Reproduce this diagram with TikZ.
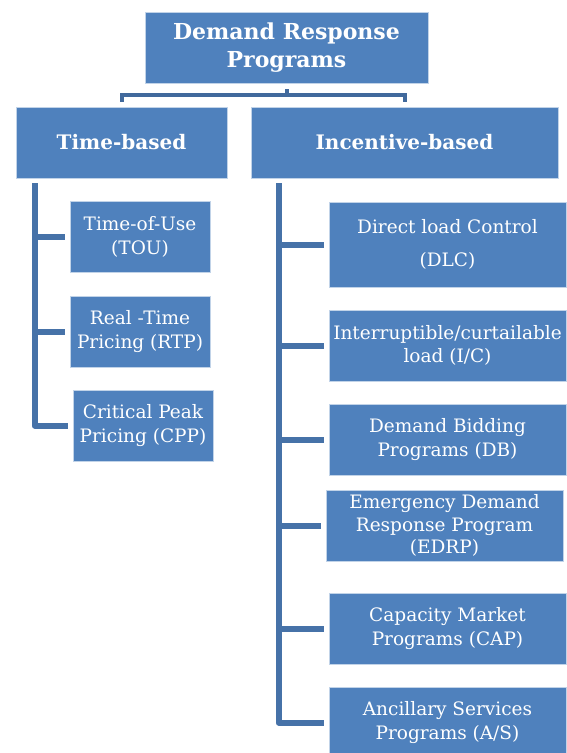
\documentclass[tikz,border=0pt]{standalone}
\usepackage{fontspec}
\setmainfont{DejaVu Serif}
\usetikzlibrary{positioning,calc}
\definecolor{boxblue}{HTML}{4F81BD}
\definecolor{lineblue}{HTML}{4672A8}
\definecolor{braceblue}{HTML}{41699C}

\begin{document}
\begin{tikzpicture}[x=1pt, y=-1pt,
	box/.style={rectangle, fill=boxblue, draw=boxblue!35!white, line width=0.8pt, text=white, align=center, inner sep=0pt},
	head/.style={box, minimum height=71pt, font=\bfseries\fontsize{20}{26}\selectfont},
	leaf/.style={box, minimum width=237pt, minimum height=71pt, font=\fontsize{18.5}{23.5}\selectfont},
	twig/.style={draw=lineblue, line width=6pt, line join=round, shorten <=5pt, shorten >=5pt},
	brace/.style={draw=braceblue, line width=4pt}]
	\useasboundingbox (0,0) rectangle (566,753);
	\node[head, minimum width=283pt, font=\bfseries\fontsize{22}{28}\selectfont] (drp) at (286.5,47.5) {Demand Response\\Programs};
	\node[head, minimum width=211pt] (time) at (121.5,142.5) {Time-based};
	\node[head, minimum width=307pt] (incentive) at (404.5,142.5) {Incentive-based};
	\node[leaf, minimum width=140pt] (tou) at (140,237) {Time-of-Use\\(TOU)};
	\node[leaf, minimum width=140pt] (rtp) at (140,331.5) {Real -Time\\Pricing (RTP)};
	\node[leaf, minimum width=140pt] (cpp) at (143,425.5) {Critical Peak\\Pricing (CPP)};
	\node[leaf, minimum height=85pt] (dlc) at (447.5,244.5) {Direct load Control\\[10pt](DLC)};
	\node[leaf] (ic) at (447.5,345.5) {Interruptible/curtailable\\load (I/C)};
	\node[leaf] (db) at (447.5,439.5) {Demand Bidding\\Programs (DB)};
	\node[leaf, font=\fontsize{18.5}{22.5}\selectfont] (edrp) at (444.5,525.5) {Emergency Demand\\Response Program\\(EDRP)};
	\node[leaf] (cap) at (447.5,628.5) {Capacity Market\\Programs (CAP)};
	\node[leaf] (as) at (447.5,722.5) {Ancillary Services\\Programs (A/S)};
	\draw[brace, shorten <=6pt] (drp.south) -- ++(0,12);
	\draw[brace] ([yshift=5pt]time.north) |- ([yshift=-12pt]drp.south) -| ([yshift=5pt]incentive.north);
	\foreach \leaf in {tou,rtp,cpp}
		\draw[twig] ([xshift=19pt]time.south west) |- (\leaf.west);
	\foreach \leaf in {dlc,ic,db,edrp,cap,as}
		\draw[twig] ([xshift=28pt]incentive.south west) |- (\leaf.west);
\end{tikzpicture}
\end{document}
